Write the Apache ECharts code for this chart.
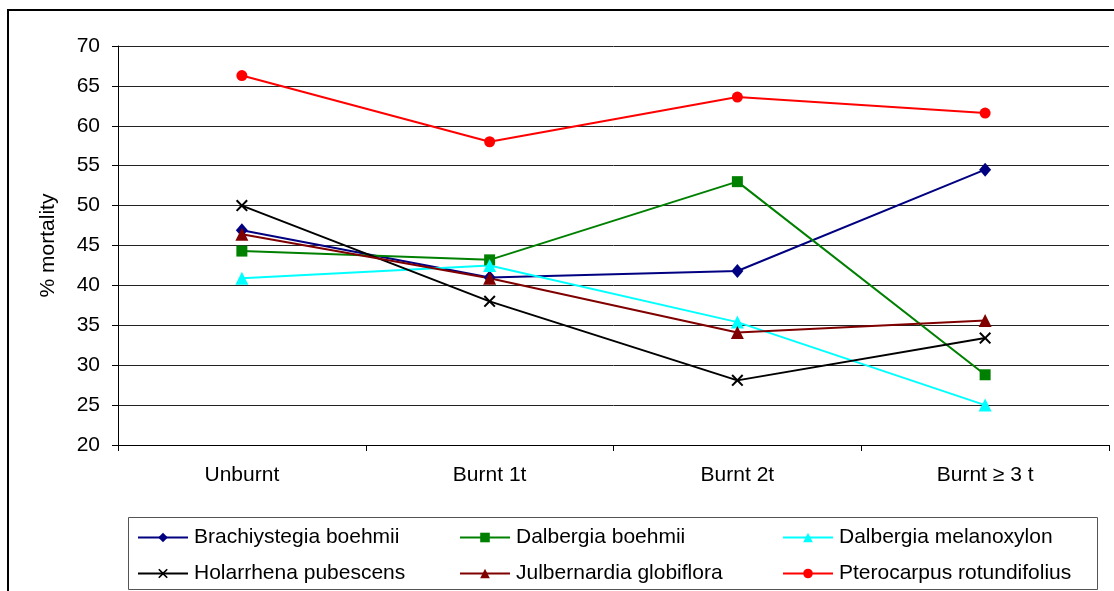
<!DOCTYPE html>
<html>
<head>
<meta charset="utf-8">
<script src="https://cdn.jsdelivr.net/npm/echarts@6/dist/echarts.min.js"></script>
<style>
html,body{margin:0;padding:0;background:#fff;}
#chart{width:1114px;height:591px;}
</style>
</head>
<body>
<div id="chart"></div>
<script>
var categories = ['Unburnt', 'Burnt 1t', 'Burnt 2t', 'Burnt \u2265 3 t'];
var speciesNames = ['Brachiystegia boehmii', 'Dalbergia boehmii', 'Dalbergia melanoxylon',
                    'Holarrhena pubescens', 'Julbernardia globiflora', 'Pterocarpus rotundifolius'];
var brachiystegia = [46.9, 41.0, 41.8, 54.5];
var dalbergiaB = [44.3, 43.2, 53.0, 28.8];
var dalbergiaM = [40.9, 42.5, 35.4, 25.0];
var holarrhena = [50.0, 38.0, 28.1, 33.4];
var julbernardia = [46.4, 40.9, 34.1, 35.6];
var pterocarpus = [66.3, 58.0, 63.6, 61.6];
var yTicks = { min: 20, max: 70, interval: 5 };

var FONT = '"Liberation Sans", Arial, sans-serif';
var X_PATH = 'path://M0,1.2L1.2,0L5,3.8L8.8,0L10,1.2L6.2,5L10,8.8L8.8,10L5,6.2L1.2,10L0,8.8L3.8,5Z';

function mk(name, data, color, symbol, size) {
  return {
    name: name, type: 'line', data: data, symbol: symbol, symbolSize: size,
    showAllSymbol: true,
    lineStyle: { color: color, width: 2 },
    itemStyle: { color: color },
    emphasis: { disabled: true },
    animation: false
  };
}

var colLeft = [137, 459, 782];
var rowTop = [527, 563];
var legends = speciesNames.map(function (n, i) {
  return {
    left: colLeft[i % 3], top: rowTop[Math.floor(i / 3)], data: [n],
    orient: 'horizontal', itemWidth: 50, itemHeight: 12, itemGap: 0,
    padding: 0, selectedMode: false,
    textStyle: { fontFamily: FONT, fontSize: 21, color: '#000', padding: [0, 0, 0, 1] }
  };
});

var chart = echarts.init(document.getElementById('chart'), null, { renderer: 'canvas' });
chart.setOption({
  backgroundColor: '#fff',
  animation: false,
  textStyle: { fontFamily: FONT },
  grid: { left: 118, right: 5, top: 46, bottom: 146, containLabel: false },
  xAxis: {
    type: 'category', data: categories, boundaryGap: true,
    axisLine: { lineStyle: { color: '#000', width: 1 } },
    axisTick: { show: true, length: 6, lineStyle: { color: '#000' } },
    axisLabel: { fontFamily: FONT, fontSize: 21, color: '#000', margin: 20 }
  },
  yAxis: {
    type: 'value', min: yTicks.min, max: yTicks.max, interval: yTicks.interval,
    name: '% mortality', nameLocation: 'middle', nameRotate: 90, nameGap: 59,
    nameTextStyle: { fontFamily: FONT, fontSize: 21, color: '#000' },
    axisLine: { show: true, lineStyle: { color: '#000', width: 1 } },
    axisTick: { show: true, length: 6, lineStyle: { color: '#000' } },
    axisLabel: { fontFamily: FONT, fontSize: 21, color: '#000', margin: 18 },
    splitLine: { show: true, lineStyle: { color: '#222', width: 1 } }
  },
  legend: legends,
  graphic: [
    { type: 'rect', silent: true, z: -1, shape: { x: 8, y: 10, width: 1200, height: 700 },
      style: { fill: 'none', stroke: '#000', lineWidth: 2 } },
    { type: 'rect', silent: true, z: -1, shape: { x: 128.5, y: 517.5, width: 969, height: 72 },
      style: { fill: 'none', stroke: '#555', lineWidth: 1 } }
  ],
  series: [
    mk(speciesNames[0], brachiystegia, '#000080', 'diamond', [12, 14]),
    mk(speciesNames[1], dalbergiaB, '#008000', 'rect', 11),
    mk(speciesNames[2], dalbergiaM, '#00FFFF', 'triangle', 13),
    mk(speciesNames[3], holarrhena, '#000000', X_PATH, 12),
    mk(speciesNames[4], julbernardia, '#800000', 'triangle', 13),
    mk(speciesNames[5], pterocarpus, '#FF0000', 'circle', 11)
  ]
});
</script>
</body>
</html>
